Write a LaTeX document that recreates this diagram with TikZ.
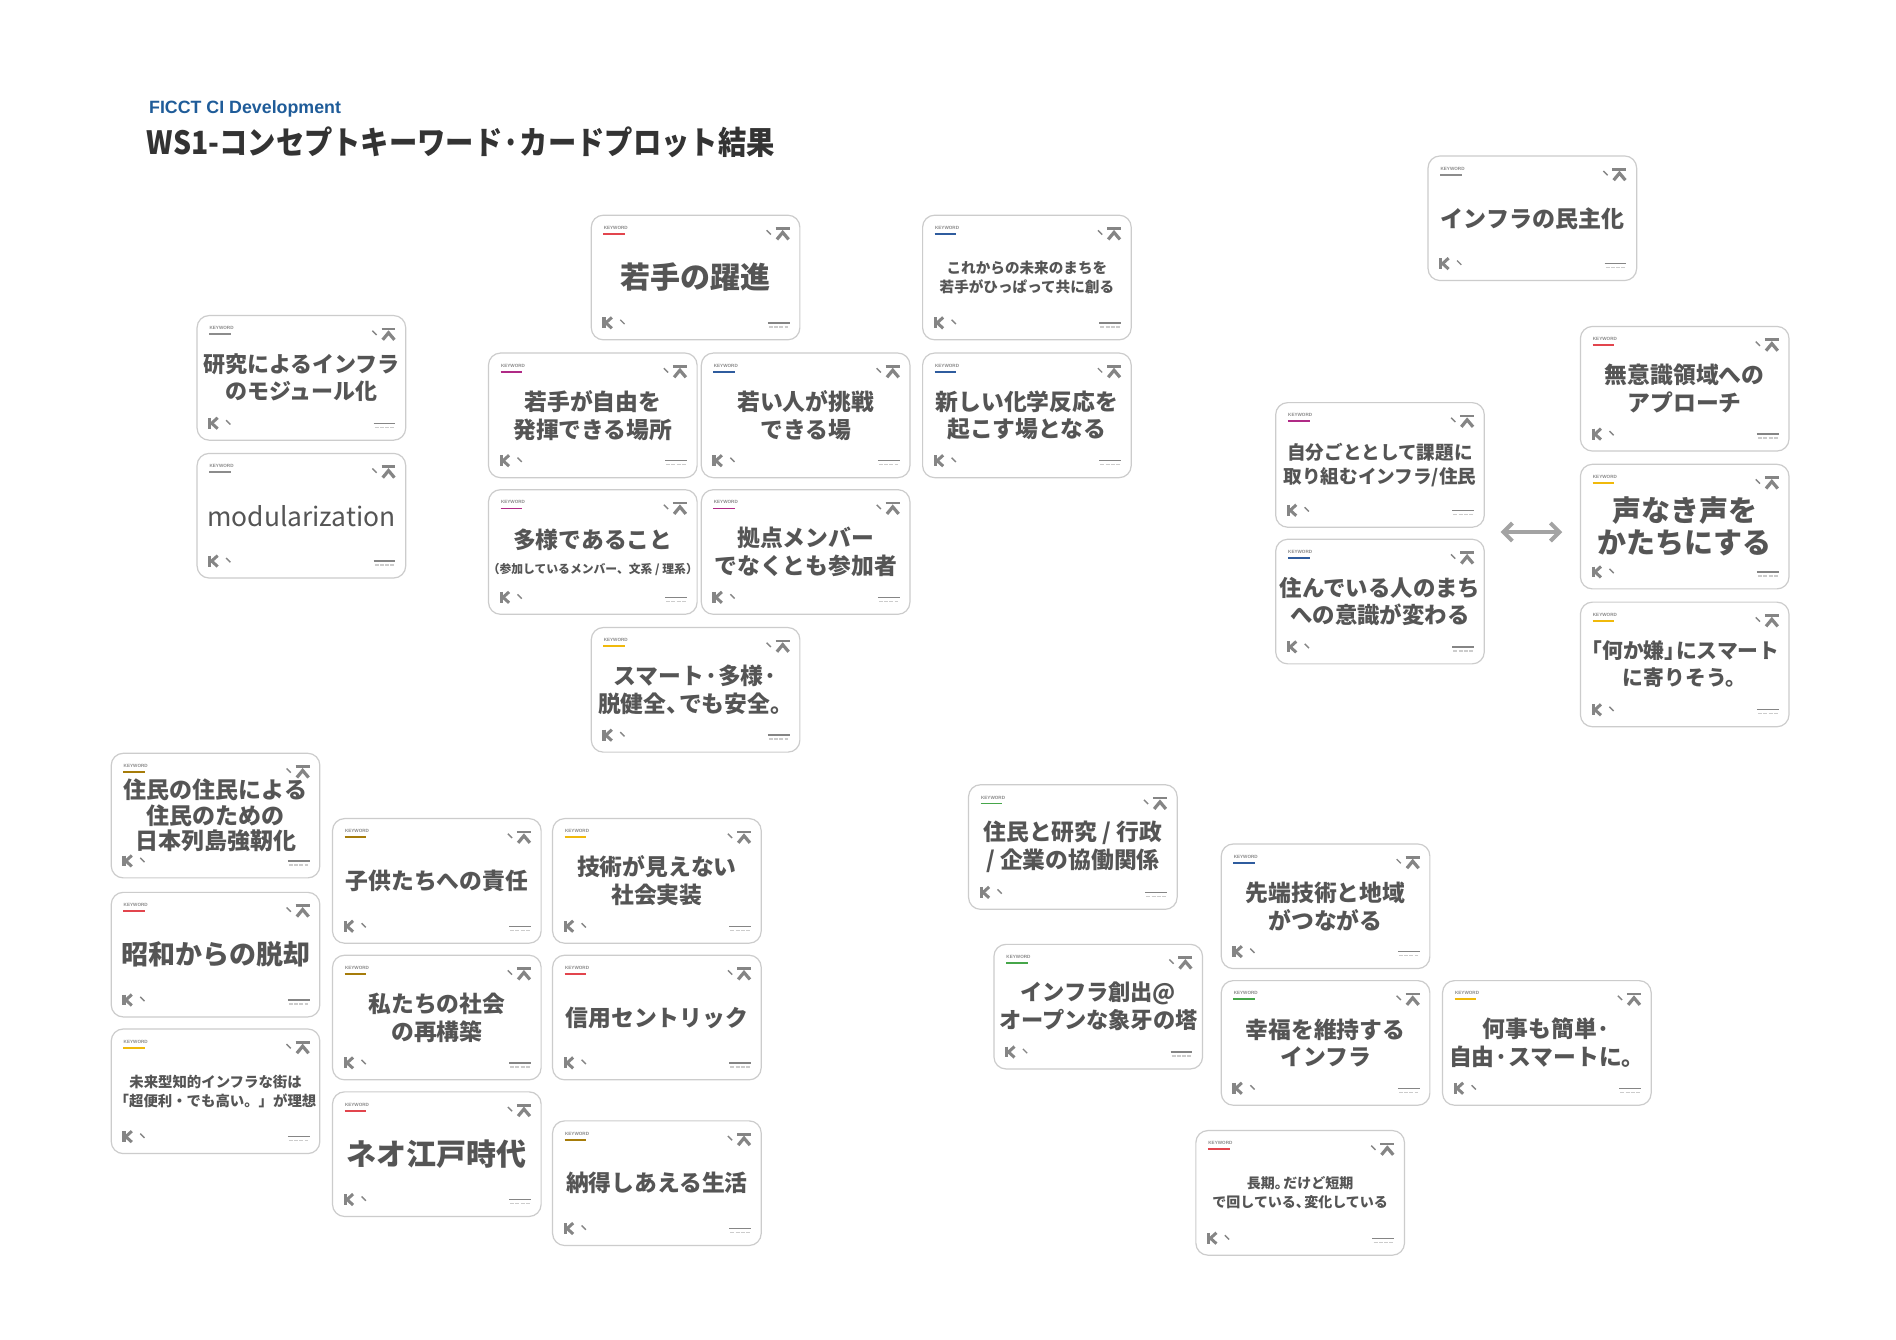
\documentclass[tikz,border=0pt]{standalone}
\usepackage{fontspec}
\setmainfont{Noto Sans CJK JP}
\newfontfamily\latinsans{Liberation Sans}
\newfontfamily\titlecjk{Noto Sans CJK JP}[FakeStretch=0.885]
\usetikzlibrary{arrows.meta}
\definecolor{kred}{HTML}{E2454D}
\definecolor{kmag}{HTML}{B02A86}
\definecolor{kblue}{HTML}{2F5C9E}
\definecolor{kyel}{HTML}{F0B90B}
\definecolor{kolive}{HTML}{A67C0A}
\definecolor{kgreen}{HTML}{46A64A}
\definecolor{kgray}{HTML}{8C8C8C}
\definecolor{txtgray}{HTML}{555555}
\definecolor{icongray}{HTML}{858585}
\definecolor{bordergray}{HTML}{CCCCCC}
\definecolor{titleblue}{HTML}{1F5C99}
\definecolor{titlegray}{HTML}{333333}
\definecolor{arrowgray}{HTML}{A3A3A3}
\tikzset{
  cardbox/.style={draw=bordergray, line width=0.6pt, rounded corners=6pt, fill=white,
    minimum width=104.3pt, minimum height=62.3pt, inner sep=0pt},
  cardtxt/.style={text=txtgray, align=center, inner sep=0pt},
  kw/.style={anchor=west, text=kgray, inner sep=0pt, font=\latinsans\bfseries\fontsize{2.3}{3}\selectfont},
  icon/.style={draw=icongray},
  dbl/.style={draw=arrowgray, line width=2pt, {Straight Barb[length=4.5pt,width=9pt,line width=2pt]}-{Straight Barb[length=4.5pt,width=9pt,line width=2pt]}}
}
\newcommand\kcard[6]{%
  \begin{scope}[shift={(#2,#3)}]
    \node[cardbox] (#1) at (86.25,51.5) {};
    \node[cardtxt, font={\bfseries\fontsize#5\selectfont}] (#1-t) at (86.25,51.5) {#6};
    \node[kw] (#1-k) at (10,10.5) {KEYWORD};
    \draw[draw=#4, line width=0.9pt] (10,15.5) -- (28,15.5);
    \draw[icon, line width=0.7pt] (145,12.5) -- (148.5,16);
    \draw[icon, line width=1.3pt] (152.5,11) -- (164,11);
    \draw[icon, line width=1.6pt] (153.5,20) -- (158.3,14.2) -- (163.2,20);
    \draw[icon, line width=1.6pt] (10.5,84.5) -- (10.5,93.5);
    \draw[icon, line width=1.5pt] (17,84.5) -- (12,89) -- (17,93.5);
    \draw[icon, line width=0.7pt] (24,86.5) -- (27.5,90);
    \draw[icon, line width=0.7pt] (146,89) -- (164,89);
    \draw[draw=bordergray, line width=0.7pt, dash pattern=on 2pt off 0.6pt] (147,92.3) -- (163,92.3);
  \end{scope}}
\begin{document}
\begin{tikzpicture}[x=0.6046pt, y=-0.6046pt]
\path[use as bounding box, fill=white] (0,0) rectangle (1568,1108);
% titles
\node[anchor=base west, inner sep=0pt, text=titleblue, font=\latinsans\bfseries\fontsize{8.9}{11}\selectfont] (sub) at (123,94) {FICCT CI Development};
\node[anchor=west, inner sep=0pt, text=titlegray, font=\titlecjk\bfseries\fontsize{16}{18}\selectfont] (title) at (121,118) {WS1-コンセプトキーワード·カードプロット結果};
% cards
\kcard{c1}{489}{178}{kred}{{15}{18}}{若手の躍進}
\kcard{c2}{763}{178}{kblue}{{7.3}{9.7}}{これからの未来のまちを\\若手がひっぱって共に創る}
\kcard{c3}{1181}{129}{kgray}{{11.5}{14}}{インフラの民主化}
\kcard{c4}{163}{261}{kgray}{{11}{13.5}}{研究によるインフラ\\のモジュール化}
\kcard{c5}{163}{375}{kgray}{{13.2}{15}}{\mdseries modularization}
\kcard{c6}{404}{292}{kmag}{{11.4}{13.9}}{若手が自由を\\発揮できる場所}
\kcard{c7}{580}{292}{kblue}{{11.4}{13.9}}{若い人が挑戦\\できる場}
\kcard{c8}{763}{292}{kblue}{{11.4}{13.9}}{新しい化学反応を\\起こす場となる}
\kcard{c9}{404}{405}{kmag}{{11.4}{13.9}}{多様であること\\[-1.5pt]{\fontsize{5.9}{7}\selectfont（参加しているメンバー、文系 / 理系）}}
\kcard{c10}{580}{405}{kmag}{{11.4}{13.9}}{拠点メンバー\\でなくとも参加者}
\kcard{c11}{489}{519}{kyel}{{11.4}{13.9}}{スマート·多様·\\脱健全、\kern-0.45em でも安全。}
\kcard{c12}{1055}{333}{kmag}{{9.3}{12}}{自分ごととして課題に\\取り組むインフラ/住民}
\kcard{c13}{1055}{446}{kblue}{{11.2}{13.9}}{住んでいる人のまち\\への意識が変わる}
\kcard{c14}{1307}{270}{kred}{{11.4}{13.9}}{無意識領域への\\アプローチ}
\kcard{c15}{1307}{384}{kyel}{{14.5}{16.3}}{声なき声を\\かたちにする}
\kcard{c16}{1307}{498}{kyel}{{10.4}{13.5}}{\kern-0.4em「何か嫌」\kern-0.45em にスマート\\に寄りそう。}
\kcard{c17}{92}{623}{kolive}{{11.5}{12.7}}{住民の住民による\\住民のための\\日本列島強靭化}
\kcard{c18}{92}{738}{kred}{{13.5}{16}}{昭和からの脱却}
\kcard{c19}{92}{851}{kyel}{{7.2}{9.6}}{未来型知的インフラな街は\\「超便利・でも高い。」が理想}
\kcard{c20}{275}{677}{kolive}{{11.4}{13.9}}{子供たちへの責任}
\kcard{c21}{457}{677}{kyel}{{11.4}{13.9}}{技術が見えない\\社会実装}
\kcard{c22}{275}{790}{kolive}{{11.4}{13.9}}{私たちの社会\\の再構築}
\kcard{c23}{457}{790}{kred}{{11.4}{13.9}}{信用セントリック}
\kcard{c24}{275}{903}{kred}{{15}{18}}{ネオ江戸時代}
\kcard{c25}{457}{927}{kolive}{{11.4}{13.9}}{納得しあえる生活}
\kcard{c26}{801}{649}{kgreen}{{11.4}{13.9}}{住民と研究 / 行政\\/ 企業の協働関係}
\kcard{c27}{822}{781}{kgreen}{{11.1}{13.9}}{インフラ創出@\\オープンな象牙の塔}
\kcard{c28}{1010}{698}{kblue}{{11.4}{13.9}}{先端技術と地域\\がつながる}
\kcard{c29}{1010}{811}{kgreen}{{11.4}{13.9}}{幸福を維持する\\インフラ}
\kcard{c30}{1193}{811}{kyel}{{11.4}{13.9}}{何事も簡単·\\自由·スマートに。}
\kcard{c31}{989}{935}{kred}{{7}{9.7}}{長期。\kern-0.4em だけど短期\\で回している、\kern-0.4em 変化している}
% double arrow
\coordinate (arrL) at (1241,440);
\coordinate (arrR) at (1292,440);
\draw[dbl] (arrL) -- (arrR);
\end{tikzpicture}
\end{document}
